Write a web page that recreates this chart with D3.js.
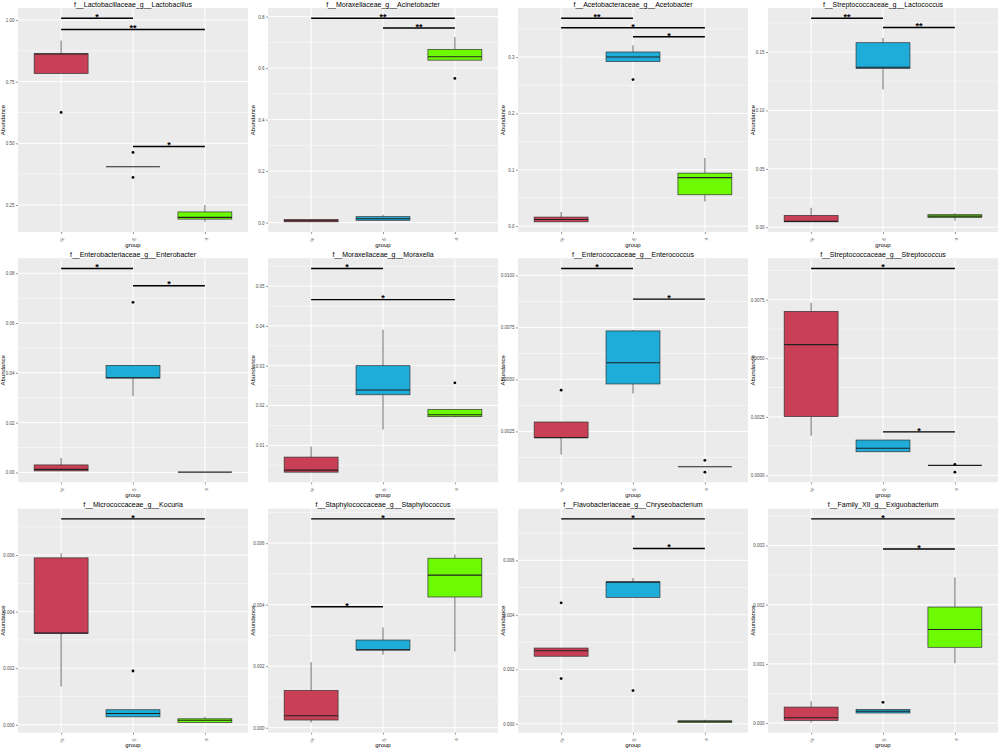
<!DOCTYPE html>
<html><head><meta charset="utf-8">
<script src="https://cdn.jsdelivr.net/npm/d3@7"></script>
<style>
html,body{margin:0;padding:0;background:#fff;}
svg{display:block;font-family:"Liberation Sans",Arial,sans-serif;}
</style></head>
<body>
<svg id="chart" width="1000" height="751"></svg>
<script>
const groups = ["ck", "fs", "h"];
const groupColors = ["#C93F55", "#1DADD8", "#6DFB04"];

const titles = [
  "f__Lactobacillaceae_g__Lactobacillus",
  "f__Moraxellaceae_g__Acinetobacter",
  "f__Acetobacteraceae_g__Acetobacter",
  "f__Streptococcaceae_g__Lactococcus",
  "f__Enterobacteriaceae_g__Enterobacter",
  "f__Moraxellaceae_g__Moraxella",
  "f__Enterococcaceae_g__Enterococcus",
  "f__Streptococcaceae_g__Streptococcus",
  "f__Micrococcaceae_g__Kocuria",
  "f__Staphylococcaceae_g__Staphylococcus",
  "f__Flavobacteriaceae_g__Chryseobacterium",
  "f__Family_XII_g__Exiguobacterium"
];

// box stats per panel, per group: [lower whisker, q1, median, q3, upper whisker]
const boxes = [
  [[0.783,0.783,0.862,0.863,0.917],[0.405,0.405,0.405,0.405,0.405],[0.182,0.193,0.200,0.222,0.250]],
  [[0.003,0.003,0.007,0.012,0.013],[0.009,0.009,0.015,0.023,0.030],[0.631,0.631,0.644,0.673,0.721]],
  [[0.0076,0.0076,0.0117,0.016,0.025],[0.292,0.292,0.300,0.309,0.321],[0.0437,0.0556,0.086,0.094,0.121]],
  [[0.0046,0.0046,0.0050,0.0101,0.0167],[0.118,0.136,0.137,0.158,0.162],[0.0058,0.0083,0.0095,0.0107,0.012]],
  [[0.0006,0.0006,0.0012,0.003,0.0058],[0.0306,0.0379,0.038,0.043,0.043],[0.0001,0.0001,0.0001,0.0001,0.0001]],
  [[0.00327,0.00327,0.00378,0.00705,0.0097],[0.014,0.0227,0.0239,0.030,0.039],[0.017,0.0172,0.0177,0.019,0.019]],
  [[0.00139,0.0022,0.0022,0.00295,0.00295],[0.00432,0.00478,0.0058,0.00733,0.00737],[0.0008,0.0008,0.0008,0.0008,0.0008]],
  [[0.00169,0.00251,0.00558,0.0070,0.00737],[0.00101,0.00101,0.00116,0.00151,0.00151],[0.00043,0.00043,0.00043,0.00043,0.00043]],
  [[0.00135,0.00324,0.00324,0.0059,0.00606],[0.00028,0.00028,0.0004,0.00053,0.00053],[0.00008,0.00008,0.00016,0.00021,0.00028]],
  [[0.00017,0.00025,0.00039,0.00121,0.00213],[0.00237,0.00253,0.00253,0.00285,0.00326],[0.00248,0.00425,0.00496,0.00551,0.00563]],
  [[0.00248,0.00248,0.00268,0.00278,0.00278],[0.00464,0.00464,0.0052,0.00521,0.00535],[0.00005,0.00005,0.0001,0.0001,0.00015]],
  [[0.00001,0.000046,0.00009,0.00027,0.00037],[0.00017,0.00017,0.0002,0.00023,0.00023],[0.00101,0.00128,0.00158,0.00196,0.00246]]
];

// outlier points per panel, per group
const outliers = [
  [[0.625],[0.463,0.362],[]],
  [[],[],[0.560]],
  [[],[0.260],[]],
  [[],[],[]],
  [[],[0.0683],[]],
  [[],[],[0.0257]],
  [[0.00448],[],[0.00111,0.00054]],
  [[],[],[0.00047,0.00014]],
  [[],[0.0019],[]],
  [[],[],[]],
  [[0.00444,0.00166],[0.00122],[]],
  [[],[0.00035],[]]
];

// significance brackets: [group a, group b, y value, label]
const signif = [
  [[1,2,1.007,"*"],[1,3,0.961,"**"],[2,3,0.487,"*"]],
  [[1,3,0.794,"**"],[2,3,0.756,"**"]],
  [[1,2,0.369,"**"],[1,3,0.352,"*"],[2,3,0.336,"*"]],
  [[1,2,0.179,"**"],[2,3,0.171,"**"]],
  [[1,2,0.0819,"*"],[2,3,0.075,"*"]],
  [[1,2,0.0544,"*"],[1,3,0.0466,"*"]],
  [[1,2,0.01033,"*"],[2,3,0.00886,"*"]],
  [[1,3,0.00883,"*"],[2,3,0.00186,"*"]],
  [[1,3,0.00728,"*"]],
  [[1,3,0.00679,"*"],[1,2,0.00393,"*"]],
  [[1,3,0.00752,"*"],[2,3,0.00643,"*"]],
  [[1,3,0.00345,"*"],[2,3,0.00294,"*"]]
];

const yTicks = [
  [0.25,0.50,0.75,1.00],
  [0,0.2,0.4,0.6,0.8],
  [0,0.1,0.2,0.3],
  [0,0.05,0.10,0.15],
  [0,0.02,0.04,0.06,0.08],
  [0.01,0.02,0.03,0.04,0.05],
  [0.0025,0.0050,0.0075,0.0100],
  [0,0.0025,0.0050,0.0075],
  [0,0.002,0.004,0.006],
  [0,0.002,0.004,0.006],
  [0,0.002,0.004,0.006],
  [0,0.001,0.002,0.003]
];
const yTickLabels = [
  ["0.25","0.50","0.75","1.00"],
  ["0.0","0.2","0.4","0.6","0.8"],
  ["0.0","0.1","0.2","0.3"],
  ["0.00","0.05","0.10","0.15"],
  ["0.00","0.02","0.04","0.06","0.08"],
  ["0.01","0.02","0.03","0.04","0.05"],
  ["0.0025","0.0050","0.0075","0.0100"],
  ["0.0000","0.0025","0.0050","0.0075"],
  ["0.000","0.002","0.004","0.006"],
  ["0.000","0.002","0.004","0.006"],
  ["0.000","0.002","0.004","0.006"],
  ["0.000","0.001","0.002","0.003"]
];

const svg = d3.select("#chart");
const PW = 250, PH = 250.33;
const L = 18, R = 248, T = 8, B = 232;

titles.forEach((title, i) => {
  const c = i % 4, r = Math.floor(i / 4);
  const g = svg.append("g").attr("transform", `translate(${c*PW},${r*PH})`);

  const vals = [];
  boxes[i].forEach(b => vals.push(...b));
  outliers[i].forEach(o => vals.push(...o));
  signif[i].forEach(s => vals.push(s[2]));
  const [mn, mx] = d3.extent(vals);
  const pad = (mx - mn) * 0.05;

  const x = d3.scaleLinear().domain([0.4, 3.6]).range([L, R]);
  const y = d3.scaleLinear().domain([mn - pad, mx + pad]).range([B, T]);

  g.append("rect").attr("x", L).attr("y", T).attr("width", R - L).attr("height", B - T).attr("fill", "#EBEBEB");

  // minor gridlines
  const tk = yTicks[i];
  const step = tk[1] - tk[0];
  const minors = [];
  for (let v = tk[0] - step / 2; v <= mx + pad + 1e-12; v += step) {
    if (v >= mn - pad && v <= mx + pad) minors.push(v);
  }
  g.selectAll(".minor").data(minors).join("line")
    .attr("x1", L).attr("x2", R).attr("y1", d => y(d)).attr("y2", d => y(d))
    .attr("stroke", "#fff").attr("stroke-width", 0.5);
  g.selectAll(".major").data(tk).join("line")
    .attr("x1", L).attr("x2", R).attr("y1", d => y(d)).attr("y2", d => y(d))
    .attr("stroke", "#fff").attr("stroke-width", 1);
  g.selectAll(".vmajor").data([1,2,3]).join("line")
    .attr("x1", d => x(d)).attr("x2", d => x(d)).attr("y1", T).attr("y2", B)
    .attr("stroke", "#fff").attr("stroke-width", 1);

  // boxes
  boxes[i].forEach((b, k) => {
    const cx = x(k + 1), hw = x(k + 1.375) - cx;
    const wg = g.append("g");
    wg.append("line").attr("x1", cx).attr("x2", cx).attr("y1", y(b[3])).attr("y2", y(b[4]))
      .attr("stroke", "#7a7a7a").attr("stroke-width", 1.1);
    wg.append("line").attr("x1", cx).attr("x2", cx).attr("y1", y(b[0])).attr("y2", y(b[1]))
      .attr("stroke", "#7a7a7a").attr("stroke-width", 1.1);
    wg.append("rect").attr("x", cx - hw).attr("width", 2 * hw)
      .attr("y", y(b[3])).attr("height", Math.max(0, y(b[1]) - y(b[3])))
      .attr("fill", groupColors[k]).attr("stroke", "#333").attr("stroke-width", 0.7);
    wg.append("line").attr("x1", cx - hw).attr("x2", cx + hw).attr("y1", y(b[2])).attr("y2", y(b[2]))
      .attr("stroke", "#222").attr("stroke-width", 1.1);
    outliers[i][k].forEach(o => {
      wg.append("circle").attr("cx", cx).attr("cy", y(o)).attr("r", 1.4).attr("fill", "#000");
    });
  });

  // significance
  signif[i].forEach(s => {
    g.append("line").attr("x1", x(s[0])).attr("x2", x(s[1])).attr("y1", y(s[2])).attr("y2", y(s[2]))
      .attr("stroke", "#000").attr("stroke-width", 1.4);
    g.append("text").attr("x", (x(s[0]) + x(s[1])) / 2).attr("y", y(s[2]) + 1.8)
      .attr("text-anchor", "middle").attr("font-size", 9).attr("font-weight", "bold")
      .attr("fill", "#000").text(s[3]);
  });

  // axes
  const ya = g.append("g").attr("transform", `translate(${L},0)`)
    .call(d3.axisLeft(y).tickValues(tk).tickFormat((d, j) => yTickLabels[i][j]).tickSize(2).tickPadding(1.5));
  ya.select(".domain").remove();
  ya.selectAll(".tick line").attr("stroke", "#333").attr("stroke-width", 0.5);
  ya.selectAll(".tick text").attr("font-size", 4.5).attr("fill", "#4D4D4D").attr("font-family", "Liberation Sans, Arial, sans-serif");

  const xa = g.append("g").attr("transform", `translate(0,${B})`)
    .call(d3.axisBottom(x).tickValues([1,2,3]).tickFormat(d => groups[d - 1]).tickSize(2).tickPadding(1));
  xa.select(".domain").remove();
  xa.selectAll(".tick line").attr("stroke", "#333").attr("stroke-width", 0.5);
  xa.selectAll(".tick text").attr("font-size", 4.5).attr("fill", "#4D4D4D")
    .attr("font-family", "Liberation Sans, Arial, sans-serif")
    .attr("text-anchor", "end").attr("dy", "0.3em")
    .attr("transform", "translate(0,4) rotate(-45)");

  g.append("text").attr("x", (L + R) / 2).attr("y", 6.5).attr("text-anchor", "middle")
    .attr("font-size", 7).attr("fill", "#000").text(title);
  g.append("text").attr("x", (L + R) / 2).attr("y", 246.5).attr("text-anchor", "middle")
    .attr("font-size", 6).attr("fill", "#000").text("group");
  g.append("text").attr("transform", `translate(5,${(T + B) / 2}) rotate(-90)`).attr("text-anchor", "middle")
    .attr("font-size", 6).attr("fill", "#000").text("Abundance");
});
</script>
</body></html>
